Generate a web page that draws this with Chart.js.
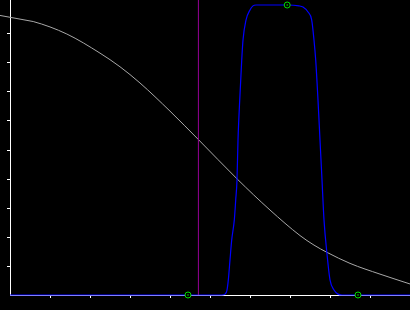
<!DOCTYPE html>
<html>
<head>
<meta charset="utf-8">
<script src="https://cdn.jsdelivr.net/npm/chart.js@4/dist/chart.umd.min.js"></script>
<style>
  html, body { margin: 0; padding: 0; background: #000; }
  canvas { display: block; }
</style>
</head>
<body>
<canvas id="myChart" width="410" height="310"></canvas>
<script>
// gray falling curve
const grayX = [-0.25, 0.5, 0.58, 1.42, 2.25, 2.75, 3.25, 4.0, 4.71, 5.68, 6.5, 7.25, 7.6, 7.925, 8.5, 9.25, 10];
const grayY = [0.964, 0.945, 0.943, 0.9, 0.834, 0.787, 0.731, 0.634, 0.536, 0.4, 0.293, 0.205, 0.172, 0.147, 0.109, 0.072, 0.038];

// blue flat-topped pulse
const blueX = [0, 5.3, 5.375, 5.425, 5.458, 5.5, 5.543, 5.608, 5.643, 5.675, 5.7, 5.743, 5.793, 5.825, 5.9, 6.0, 6.075, 6.15,
               6.925, 7.225, 7.325, 7.45, 7.543, 7.6, 7.643, 7.7, 7.75, 7.8, 7.85, 7.925, 8.0, 8.1, 8.2, 8.3, 10];
const blueY = [0, 0, 0.003, 0.017, 0.052, 0.121, 0.19, 0.259, 0.328, 0.397, 0.534, 0.672, 0.81, 0.879, 0.948, 0.983, 0.997, 1.0,
               1.0, 0.997, 0.993, 0.976, 0.948, 0.879, 0.81, 0.672, 0.534, 0.397, 0.259, 0.141, 0.052, 0.017, 0.003, 0, 0];

// green markers
const markX = [4.45, 6.93, 8.7];
const markY = [0, 1, 0];

// purple vertical line
const purpleX = 4.71;

// tick positions
const xTicks = [1, 2, 3, 4, 5, 6, 7, 8, 9];
const yTicks = [0.1, 0.2, 0.3, 0.4, 0.5, 0.6, 0.7, 0.8, 0.9];
const yMax = 1 + 5 / 290;

const pts = (xs, ys) => xs.map((x, i) => ({ x: x, y: ys[i] }));

const data = {
    datasets: [
        {
            // dots in the middle of the markers
            data: pts(markX, markY),
            showLine: false,
            pointRadius: 0.8,
            pointBackgroundColor: '#00dd00',
            pointBorderWidth: 0,
            clip: false
        },
        {
            data: pts(markX, markY),
            showLine: false,
            pointRadius: 3,
            pointBorderColor: '#00dd00',
            pointBackgroundColor: '#000',
            pointBorderWidth: 1,
            clip: false
        },
        {
            data: [{ x: purpleX, y: 0 }, { x: purpleX, y: yMax }],
            borderColor: '#960096',
            borderWidth: 1,
            pointRadius: 0,
            clip: false
        },
        {
            data: pts(blueX, blueY),
            borderColor: '#0000ff',
            borderWidth: 1.2,
            pointRadius: 0,
            cubicInterpolationMode: 'monotone',
            clip: false
        },
        {
            data: pts(grayX, grayY),
            borderColor: '#a8a8a8',
            borderWidth: 1,
            pointRadius: 0,
            cubicInterpolationMode: 'monotone',
            clip: false
        }
    ]
};

const options = {
    responsive: false,
    animation: false,
    events: [],
    layout: { padding: 0, autoPadding: false },
    plugins: { legend: { display: false }, tooltip: { enabled: false } },
    scales: {
        x: {
            type: 'linear',
            position: 'bottom',
            min: 0,
            max: 10,
            afterBuildTicks: s => { s.ticks = xTicks.map(v => ({ value: v })); },
            afterFit: s => { s.height = 15; },
            ticks: { display: false },
            grid: { drawOnChartArea: false, drawTicks: true, tickLength: 3, tickColor: '#fff', tickWidth: 1 },
            border: { color: '#fff', width: 1 }
        },
        y: {
            type: 'linear',
            position: 'left',
            min: 0,
            max: yMax,
            afterBuildTicks: s => { s.ticks = yTicks.map(v => ({ value: v })); },
            afterFit: s => { s.width = 10; },
            ticks: { display: false },
            grid: { drawOnChartArea: false, drawTicks: true, tickLength: 3, tickColor: '#fff', tickWidth: 1 },
            border: { color: '#fff', width: 1 }
        }
    }
};

const ctx = document.getElementById('myChart').getContext('2d');
const myChart = new Chart(ctx, {
    type: 'line',
    data: data,
    options: options
});
</script>
</body>
</html>
